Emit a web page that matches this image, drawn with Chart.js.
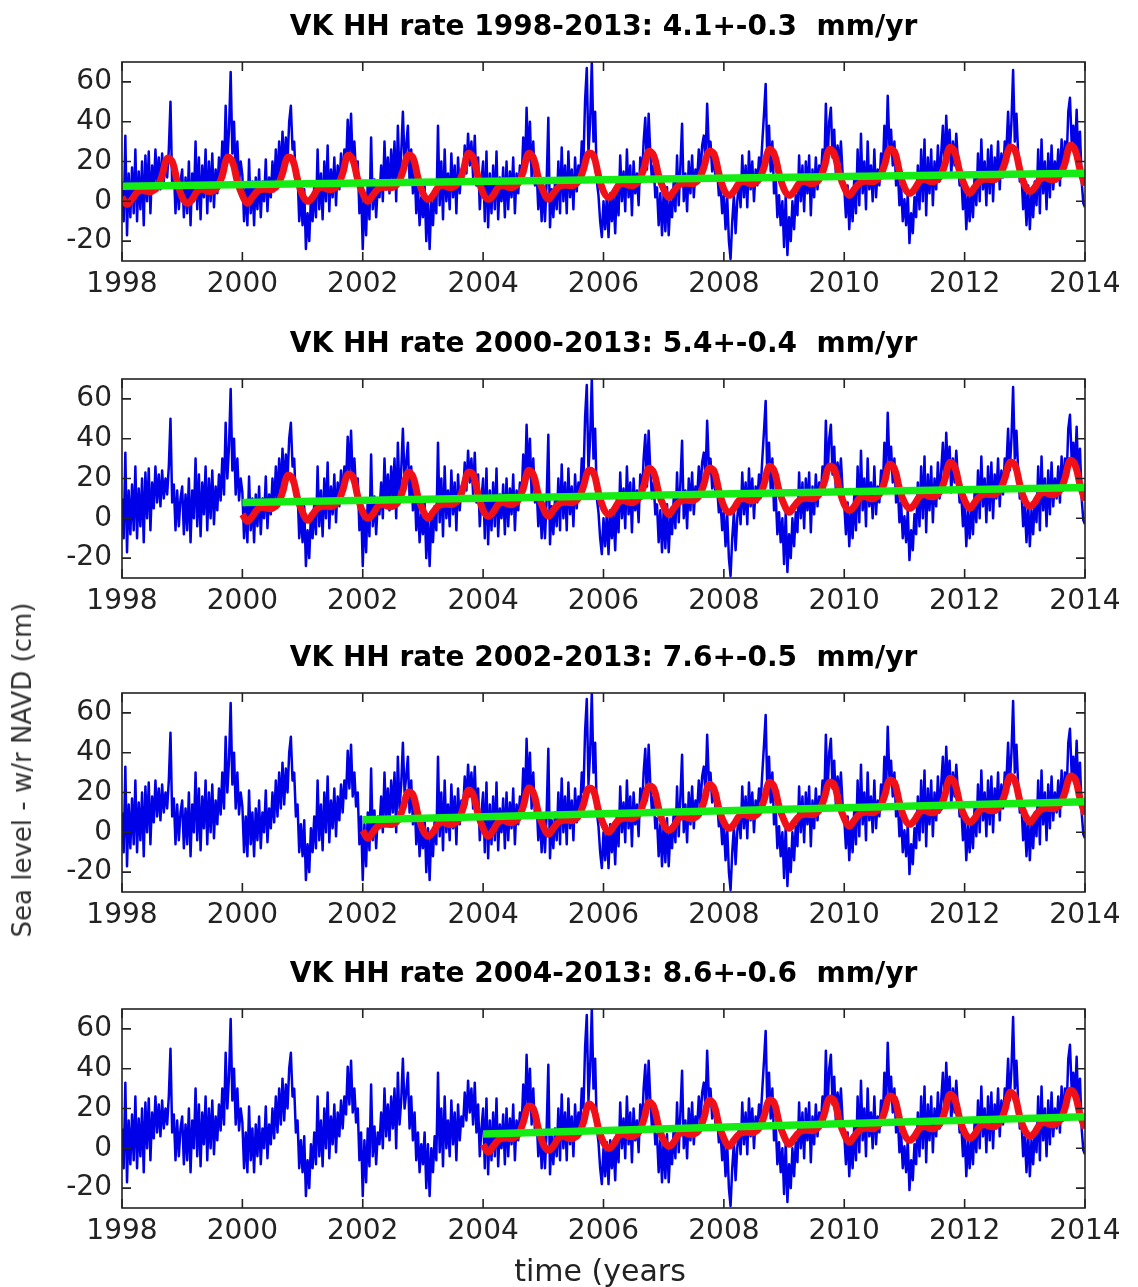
<!DOCTYPE html>
<html>
<head>
<meta charset="utf-8">
<title>VK HH sea level rates</title>
<script src="https://cdn.jsdelivr.net/npm/chart.js@4.4.1/dist/chart.umd.min.js"></script>
<style>
    html, body { margin: 0; padding: 0; background: #fff; }
    body { width: 1138px; height: 1287px; position: relative; overflow: hidden; font-family: "DejaVu Sans", sans-serif; }
    canvas.panel { position: absolute; left: 0; }
    #ylabel {
        position: absolute; left: 22px; top: 770px;
        transform: translate(-50%, -50%) rotate(-90deg);
        white-space: nowrap; font-size: 26px; line-height: 26px; color: #333;
    }
    #xlabel {
        position: absolute; left: 600px; top: 1256px;
        transform: translateX(-50%);
        white-space: nowrap; font-size: 30px; line-height: 30px; color: #222;
    }
</style>
</head>
<body>
<canvas class="panel" id="p0" width="1138" height="316" style="top:0px"></canvas>
<canvas class="panel" id="p1" width="1138" height="316" style="top:317px"></canvas>
<canvas class="panel" id="p2" width="1138" height="316" style="top:631px"></canvas>
<canvas class="panel" id="p3" width="1138" height="316" style="top:947px"></canvas>
<div id="ylabel">Sea level - w/r NAVD (cm)</div>
<div id="xlabel">time (years</div>

<script>
// ===== DATA =====
var firstYear = 1998;
var lastYear = 2014;
var xTicks = [1998, 2000, 2002, 2004, 2006, 2008, 2010, 2012, 2014];
var yTicks = [-20, 0, 20, 40, 60];

// fit start year, rate and error for each panel (mm/yr)
var panelStarts = [1998, 2000, 2002, 2004];
var rates = ['4.1', '5.4', '7.6', '8.6'];
var rateErrors = ['0.3', '0.4', '0.5', '0.6'];

// green trend line: value at start year and at 2014 (cm)
var trendLines = [[7.5, 14.1], [7.9, 15.5], [6.3, 15.4], [7.2, 15.8]];

// observed sea level, one row per year, ~10 day steps (cm)
var seaLevelObs = [
    [10, -10, 33, -17, 14, -8, 17, -6, 26, -10, 15, -4, 20, -12, 23, 0, 25, -6, 18, 5, 26, 8, 22, 6, 24, 10, 20, 12, 26, 50, 8, 17, -6, 14, -4, 10], // 1998
    [16, -8, 12, -6, 20, -12, 14, 0, 30, -4, 22, -9, 18, 2, 26, -6, 20, 0, 24, -3, 16, 4, 22, 9, 30, 12, 48, 20, 36, 65, 24, 40, 12, 30, 9, 20], // 1999
    [13, -10, 8, -12, 21, -6, 10, -12, 12, -4, 16, -8, 10, 0, 21, -5, 12, 2, 20, 5, 26, 8, 30, 12, 35, 14, 32, 20, 40, 48, 26, 30, 8, 14, -10, 4], // 2000
    [-12, 6, -24, -6, -20, 2, -10, 8, -8, 26, -4, 14, -9, 20, 0, 28, -5, 16, 2, 22, -2, 18, 6, 24, 10, 26, 17, 41, 22, 44, 18, 30, 13, 20, -6, 8], // 2001
    [-24, 4, -17, 10, -9, 32, -4, 11, -8, 8, 2, 18, 0, 30, 6, 22, 4, 26, 10, 30, 0, 38, 12, 24, 45, 20, 28, 38, 10, 26, 4, 18, -6, 8, -12, 2], // 2002
    [-8, 8, -20, 2, -24, 0, -12, 6, -6, 38, -2, 20, -9, 26, 0, 14, -4, 24, 2, 18, -6, 22, 4, 16, 11, 28, 14, 34, 18, 30, 12, 33, 8, 22, -4, 10], // 2003
    [20, -10, 25, -13, 14, -6, 18, -4, 25, -9, 12, 0, 17, -8, 20, -4, 15, 2, 22, -6, 14, 4, 18, 10, 32, 14, 47, 20, 40, 12, 30, 8, 15, -4, 10, -10], // 2004
    [8, -10, 10, 42, -13, 6, -8, 10, -4, 20, -6, 27, 0, 18, -6, 25, 2, 16, -4, 22, 5, 18, 10, 30, 20, 51, 67, 24, 40, 70, 30, 45, 10, 3, -10, -18], // 2005
    [0, -14, 3, -18, 4, -10, 2, -16, 10, -7, 23, 0, 15, -5, 26, 2, 18, -7, 20, 4, 14, -2, 22, 10, 30, 42, 16, 44, 24, 10, 18, 2, 7, -12, 4, -17], // 2006
    [5, -15, 7, -17, 0, -8, 10, -5, 23, -2, 18, 39, 0, 14, -5, 20, 4, 23, 2, 16, 10, 26, 14, 28, 33, 20, 49, 26, 30, 15, 22, 12, 15, 3, 8, -6], // 2007
    [3, -14, 2, -20, -29, -10, 3, -16, 0, 10, -3, 23, 2, 18, -3, 25, 6, 20, 0, 16, 8, 22, 15, 30, 44, 59, 20, 38, 15, 30, 4, 12, -8, 3, -12, 0], // 2008
    [-23, 3, -27, -8, -20, 0, -14, 3, -7, 23, 0, 18, -5, 20, 4, 23, -7, 16, 2, 22, 6, 18, 12, 26, 14, 49, 20, 40, 47, 22, 36, 13, 28, 18, 30, 14], // 2009
    [7, -8, 8, -14, 4, -10, 12, -6, 26, -2, 34, 4, 20, -4, 30, 6, 18, 0, 26, 2, 16, 8, 24, 13, 38, 20, 53, 28, 36, 18, 30, 8, 16, -2, 8, -10], // 2010
    [1, -12, 4, -21, -6, -16, 2, -8, 18, -4, 26, 0, 31, -7, 22, 4, 26, -2, 20, 6, 28, 10, 24, 38, 14, 43, 22, 36, 13, 30, 18, 34, 20, 8, 12, -4], // 2011
    [8, -14, 4, -10, 6, -8, 14, -2, 24, 0, 31, 6, 20, -2, 26, 4, 28, 0, 22, 10, 30, 6, 24, 12, 30, 26, 45, 24, 40, 66, 30, 44, 24, 10, 14, -4], // 2012
    [6, -12, 8, -14, 4, -8, 10, -2, 26, -6, 31, 4, 20, -4, 24, 2, 28, 6, 20, 10, 26, 8, 31, 14, 30, 20, 45, 52, 30, 38, 24, 46, 20, 35, 10, -1]  // 2013
];
var seaLevelEnd = -3; // value at 2014.0

// red seasonal fit, monthly from the panel's start year to 2014.0 (cm)
var fit1998 = [
    2, -1.5, 1, 4.5, 5.5, 5, 5, 7, 13, 21.5, 20, 10,
    2, -1, 1, 5, 6, 5, 5, 7, 13, 22, 20, 10,
    3, -1, 2, 5, 6, 6, 6, 8, 14, 22, 21, 11,
    3, 0, 2, 6, 7, 6, 6, 8, 14, 23, 21, 11,
    4, 0, 3, 6, 7, 7, 7, 9, 15, 23, 22, 12,
    4, 1, 3, 7, 8, 7, 7, 9, 15, 24, 22, 12,
    4, 1, 3, 7, 8, 7, 7, 9, 15, 24, 22, 12,
    5, 1, 4, 7, 8, 8, 8, 10, 16, 24, 23, 13,
    5, 2, 4, 8, 9, 8, 8, 10, 16, 25, 23, 13,
    6, 2, 5, 8, 9, 9, 9, 11, 17, 25, 24, 14,
    6, 3, 5, 9, 10, 9, 9, 11, 17, 26, 24, 14,
    6, 3, 5, 9, 10, 9, 9, 11, 17, 26, 24, 14,
    7, 3, 6, 9, 10, 10, 10, 12, 18, 26, 25, 15,
    7, 4, 6, 10, 11, 10, 10, 12, 18, 27, 25, 15,
    8, 4, 7, 10, 11, 11, 11, 13, 19, 27, 26, 16,
    8, 5, 7, 11, 12, 11, 11, 13, 19, 28, 26, 16,
    8
];
var fit2000 = [
    2, -1.5, 1, 4.5, 5.5, 5, 5, 7, 13, 21.5, 20, 10,
    3, -1, 2, 5, 6, 6, 6, 8, 14, 22, 21, 11,
    3, 0, 2, 6, 7, 6, 6, 8, 14, 23, 21, 11,
    4, 0, 3, 6, 7, 7, 7, 9, 15, 23, 22, 12,
    4, 1, 3, 7, 8, 7, 7, 9, 15, 24, 22, 12,
    5, 1, 4, 7, 8, 8, 8, 10, 16, 24, 23, 13,
    5, 2, 4, 8, 9, 8, 8, 10, 16, 25, 23, 13,
    6, 2, 5, 8, 9, 9, 9, 11, 17, 25, 24, 14,
    6, 3, 5, 9, 10, 9, 9, 11, 17, 26, 24, 14,
    7, 3, 6, 9, 10, 10, 10, 12, 18, 26, 25, 15,
    7, 4, 6, 10, 11, 10, 10, 12, 18, 27, 25, 15,
    8, 5, 7, 11, 12, 11, 11, 13, 19, 28, 26, 16,
    9, 5, 8, 11, 12, 12, 12, 14, 20, 28, 27, 17,
    9, 6, 8, 12, 13, 12, 12, 14, 20, 29, 27, 17,
    9
];
var fit2002 = [
    1, -3, 0, 3, 4, 4, 4, 6, 12, 20, 19, 9,
    1, -2, 0, 4, 5, 4, 4, 6, 12, 21, 19, 9,
    2, -2, 1, 5, 6, 5, 5, 7, 13, 22, 20, 10,
    3, -1, 2, 5, 6, 6, 6, 8, 14, 22, 21, 11,
    4, 0, 3, 6, 7, 7, 7, 9, 15, 23, 22, 12,
    4, 1, 3, 7, 8, 7, 7, 9, 15, 24, 22, 12,
    5, 2, 4, 8, 9, 8, 8, 10, 16, 25, 23, 13,
    6, 2, 5, 8, 9, 9, 9, 11, 17, 25, 24, 14,
    7, 3, 6, 9, 10, 10, 10, 12, 18, 26, 25, 15,
    7, 4, 6, 10, 11, 10, 10, 12, 18, 27, 25, 15,
    8, 5, 7, 11, 12, 11, 11, 13, 19, 28, 26, 16,
    9, 5, 8, 11, 12, 12, 12, 14, 20, 28, 27, 17,
    9
];
var fit2004 = [
    2, -2, 1, 4, 5, 5, 5, 7, 13, 21, 20, 10,
    2, -1, 1, 5, 6, 5, 5, 7, 13, 22, 20, 10,
    3, 0, 2, 6, 7, 6, 6, 8, 14, 23, 21, 11,
    4, 1, 3, 7, 8, 7, 7, 9, 15, 24, 22, 12,
    5, 1, 4, 7, 8, 8, 8, 10, 16, 24, 23, 13,
    6, 2, 5, 8, 9, 9, 9, 11, 17, 25, 24, 14,
    7, 3, 6, 9, 10, 10, 10, 12, 18, 26, 25, 15,
    7, 4, 6, 10, 11, 10, 10, 12, 18, 27, 25, 15,
    8, 5, 7, 11, 12, 11, 11, 13, 19, 28, 26, 16,
    9, 6, 8, 12, 13, 12, 12, 14, 20, 29, 27, 17,
    10
];
var fits = [fit1998, fit2000, fit2002, fit2004];

// ===== STYLE =====
var BLUE = 'rgb(0,0,232)';
var RED = 'rgb(240,16,24)';
var GREEN = 'rgb(20,236,20)';
var FONT = '"DejaVu Sans", sans-serif';

// observed series as {x, y}, spread evenly through each year
var obsPoints = [];
seaLevelObs.forEach(function(row, r) {
    row.forEach(function(v, i) {
        obsPoints.push({ x: firstYear + r + i / row.length, y: v });
    });
});
obsPoints.push({ x: lastYear, y: seaLevelEnd });

// ===== MATLAB STYLE BOX, INWARD TICKS, TITLE =====
var matlabAxes = {
    id: 'matlabAxes',
    afterDraw: function(chart, args, opts) {
        var ctx = chart.ctx, a = chart.chartArea;
        var xs = chart.scales.x, ys = chart.scales.y;
        ctx.save();
        ctx.strokeStyle = '#222';
        ctx.lineWidth = 1.6;
        ctx.strokeRect(a.left, a.top, a.right - a.left, a.bottom - a.top);
        ctx.beginPath();
        xs.ticks.forEach(function(t) {
            var px = xs.getPixelForValue(t.value);
            ctx.moveTo(px, a.bottom); ctx.lineTo(px, a.bottom - 9);
            ctx.moveTo(px, a.top); ctx.lineTo(px, a.top + 9);
        });
        ys.ticks.forEach(function(t) {
            var py = ys.getPixelForValue(t.value);
            ctx.moveTo(a.left, py); ctx.lineTo(a.left + 9, py);
            ctx.moveTo(a.right, py); ctx.lineTo(a.right - 9, py);
        });
        ctx.stroke();
        ctx.font = 'bold 28px ' + FONT;
        ctx.fillStyle = '#000';
        ctx.textAlign = 'center';
        ctx.textBaseline = 'alphabetic';
        ctx.fillText(opts.title, (a.left + a.right) / 2, a.top - 27);
        ctx.restore();
    }
};

function makePanel(idx) {
    var start = panelStarts[idx];
    var fit = fits[idx];
    var fitPoints = fit.map(function(v, k) { return { x: start + k / 12, y: v }; });
    var trend = [
        { x: start, y: trendLines[idx][0] },
        { x: lastYear, y: trendLines[idx][1] }
    ];
    var title = 'VK HH rate ' + start + '-2013: ' + rates[idx] + '+-' + rateErrors[idx] + '  mm/yr';

    new Chart(document.getElementById('p' + idx), {
        type: 'line',
        data: {
            datasets: [
                { label: 'trend', data: trend, borderColor: GREEN, borderWidth: 7.5, order: 0, clip: 0 },
                { label: 'fit', data: fitPoints, borderColor: RED, borderWidth: 7, tension: 0.4, order: 1, clip: 0 },
                { label: 'observed', data: obsPoints, borderColor: BLUE, borderWidth: 2.5, order: 2, clip: 0 }
            ]
        },
        options: {
            responsive: false,
            animation: false,
            events: [],
            elements: {
                point: { radius: 0 },
                line: { borderJoinStyle: 'round', borderCapStyle: 'butt', fill: false }
            },
            layout: { padding: { left: 0, right: 53, top: 62, bottom: 11 } },
            plugins: {
                legend: { display: false },
                tooltip: { enabled: false },
                matlabAxes: { title: title }
            },
            scales: {
                x: {
                    type: 'linear',
                    min: firstYear,
                    max: lastYear,
                    afterBuildTicks: function(s) { s.ticks = xTicks.map(function(v) { return { value: v }; }); },
                    afterFit: function(s) { s.height = 44; },
                    grid: { display: false, drawTicks: false },
                    border: { display: false },
                    ticks: {
                        autoSkip: false, maxRotation: 0, padding: 7,
                        color: '#222', font: { family: FONT, size: 28 },
                        callback: function(v) { return String(v); }
                    }
                },
                y: {
                    type: 'linear',
                    min: -30,
                    max: 70,
                    afterBuildTicks: function(s) { s.ticks = yTicks.map(function(v) { return { value: v }; }); },
                    afterFit: function(s) { s.width = 122; },
                    grid: { display: false, drawTicks: false },
                    border: { display: false },
                    ticks: {
                        padding: 10,
                        color: '#222', font: { family: FONT, size: 28 },
                        callback: function(v) { return String(v); }
                    }
                }
            }
        },
        plugins: [matlabAxes]
    });
}

document.addEventListener('DOMContentLoaded', function() {
    for (var i = 0; i < 4; i++) makePanel(i);
});
</script>
</body>
</html>
